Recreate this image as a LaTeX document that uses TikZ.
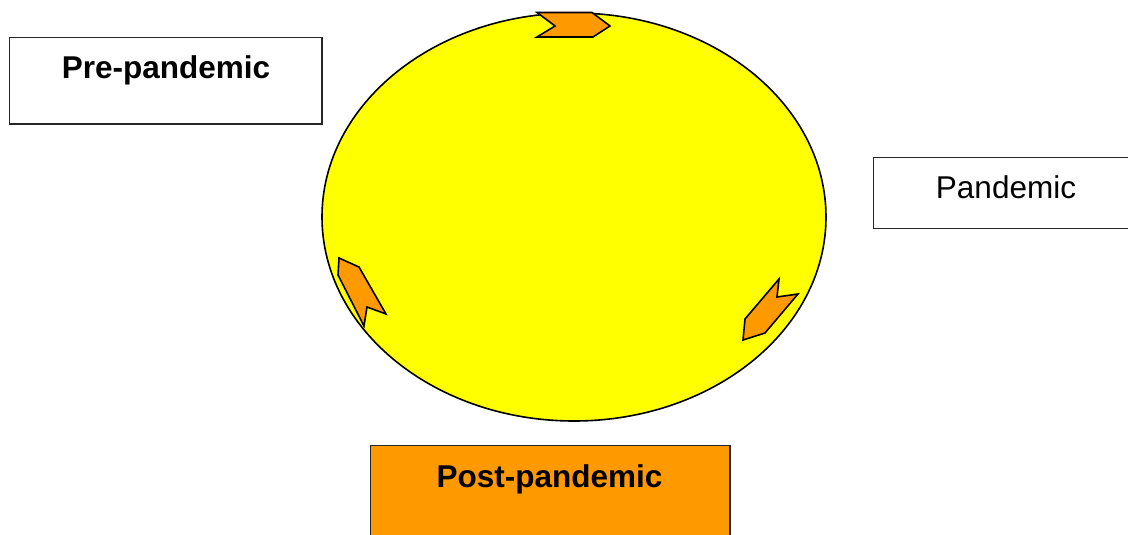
\documentclass[tikz,border=0pt]{standalone}
\usepackage{fontspec}
\setmainfont{Liberation Sans}
\definecolor{sunyellow}{HTML}{FFFF00}
\definecolor{arroworange}{HTML}{FF9900}
\begin{document}
\begin{tikzpicture}[x=1pt,y=-1pt,
  box/.style={draw=black!85,line width=1.8pt},
  chev/.style={draw=black,line width=1.6pt,fill=arroworange,line join=miter},
  lbl/.style={anchor=base,inner sep=0pt,font=\fontsize{31.5}{36}\selectfont}]
\useasboundingbox (0,0) rectangle (1128,535);
% boxes
\draw[box] (9.5,37.5) rectangle (322,124);
\draw[box] (873.5,157.5) rectangle (1140,228.5);
\draw[box,fill=arroworange] (370.5,445.5) rectangle (730,545);
\node[lbl,font=\fontsize{31.5}{36}\selectfont\bfseries] (pre) at (166,78) {Pre-pandemic};
\node[lbl] (pan) at (1006,198) {Pandemic};
\node[lbl,font=\fontsize{31.5}{36}\selectfont\bfseries] (post) at (549.5,487) {Post-pandemic};
% cycle
\draw[line width=1.6pt,fill=sunyellow] (574,217) ellipse [x radius=252, y radius=204];
\draw[chev] (537,12.5) -- (592,12.5) -- (610,26) -- (593,37) -- (537,37) -- (555,26) -- cycle;
\draw[chev] (779,279) -- (777,297) -- (798,294) -- (765,333) -- (743,340) -- (745,319) -- cycle;
\draw[chev] (339,258) -- (359,267) -- (386,314) -- (367,307) -- (364,326) -- (338,275) -- cycle;
\end{tikzpicture}
\end{document}
